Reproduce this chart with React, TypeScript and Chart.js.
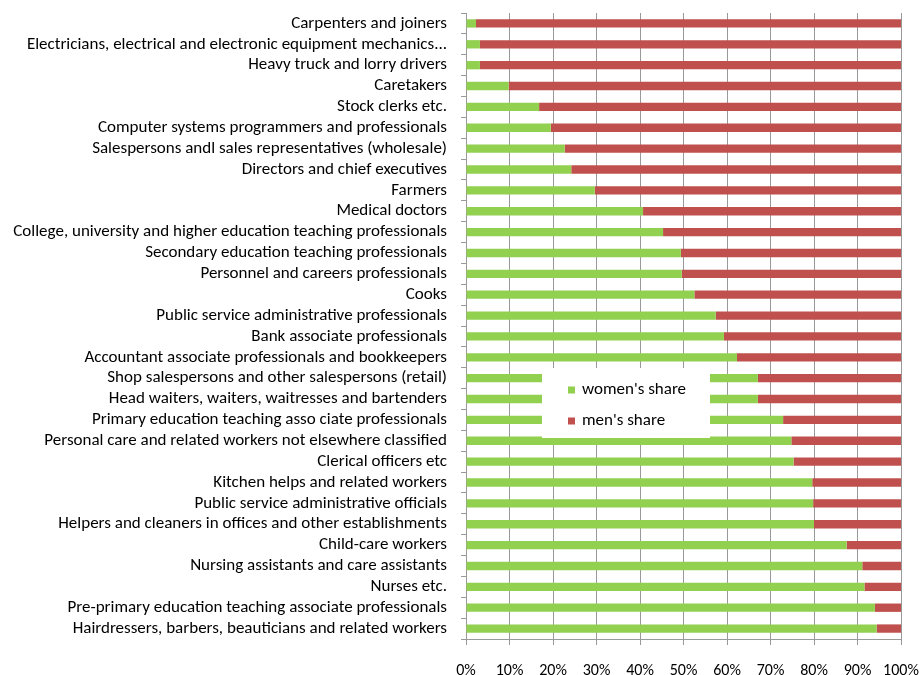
import React, { useEffect, useRef } from "react";
import { Chart, registerables } from "chart.js";

Chart.register(...registerables);

const categories: string[] = [
  "Carpenters and joiners",
  "Electricians, electrical and electronic equipment mechanics...",
  "Heavy truck and lorry drivers",
  "Caretakers",
  "Stock clerks etc.",
  "Computer systems programmers and professionals",
  "Salespersons andl sales representatives (wholesale)",
  "Directors and chief executives",
  "Farmers",
  "Medical doctors",
  "College, university and higher education teaching professionals",
  "Secondary education teaching professionals",
  "Personnel and careers professionals",
  "Cooks",
  "Public service administrative professionals",
  "Bank associate professionals",
  "Accountant associate professionals and bookkeepers",
  "Shop salespersons and other salespersons (retail)",
  "Head waiters, waiters, waitresses and bartenders",
  "Primary education teaching asso ciate professionals",
  "Personal care and related workers not elsewhere classified",
  "Clerical officers etc",
  "Kitchen helps and related workers",
  "Public service administrative officials",
  "Helpers and cleaners in offices and other establishments",
  "Child-care workers",
  "Nursing assistants and care assistants",
  "Nurses etc.",
  "Pre-primary education teaching associate professionals",
  "Hairdressers, barbers, beauticians and related workers",
];

const womenShare: number[] = [
  2.3, 3.2, 3.2, 9.8, 16.8, 19.5, 22.7, 24.2, 29.6, 40.7,
  45.3, 49.4, 49.6, 52.5, 57.4, 59.3, 62.3, 67.1, 67.1, 72.9,
  74.8, 75.3, 79.6, 79.8, 80.0, 87.5, 91.1, 91.6, 94.0, 94.4,
];

const menShare: number[] = [
  97.7, 96.8, 96.8, 90.2, 83.2, 80.5, 77.3, 75.8, 70.4, 59.3,
  54.7, 50.6, 50.4, 47.5, 42.6, 40.7, 37.7, 32.9, 32.9, 27.1,
  25.2, 24.7, 20.4, 20.2, 20.0, 12.5, 8.9, 8.4, 6.0, 5.6,
];

const seriesNames: string[] = ["women's share", "men's share"];
const xTicks: number[] = [0, 10, 20, 30, 40, 50, 60, 70, 80, 90, 100];

const GREEN = "#92D050";
const RED = "#C0504D";
const GRID = "#999999";
const FONT = "Carlito, Calibri, Lato, 'Open Sans', sans-serif";

const insideLegend = {
  id: "insideLegend",
  afterDraw(chart: any) {
    const { ctx, chartArea } = chart;
    const bx = chartArea.left + 76;
    const by = chartArea.top + 355;
    ctx.save();
    ctx.fillStyle = "#ffffff";
    ctx.fillRect(bx, by, 168, 70);
    const rows = [chartArea.top + 377, chartArea.top + 408];
    chart.data.datasets.forEach((ds: any, i: number) => {
      ctx.fillStyle = ds.backgroundColor;
      ctx.fillRect(chartArea.left + 102, rows[i] - 3.5, 7, 7);
      ctx.fillStyle = "#000000";
      ctx.font = "17px " + FONT;
      ctx.textAlign = "left";
      ctx.textBaseline = "middle";
      ctx.fillText(ds.label, chartArea.left + 116, rows[i]);
    });
    ctx.restore();
  },
};

export default function App() {
  const ref = useRef<HTMLCanvasElement | null>(null);

  useEffect(() => {
    if (!ref.current) return;
    const chart = new Chart(ref.current, {
      type: "bar",
      data: {
        labels: categories,
        datasets: [
          {
            label: seriesNames[0],
            data: womenShare,
            backgroundColor: GREEN,
            barPercentage: 0.4,
            categoryPercentage: 1,
          },
          {
            label: seriesNames[1],
            data: menShare,
            backgroundColor: RED,
            barPercentage: 0.4,
            categoryPercentage: 1,
          },
        ],
      },
      options: {
        indexAxis: "y",
        animation: false,
        responsive: false,
        maintainAspectRatio: false,
        layout: { padding: { top: 13, right: 21, left: 0, bottom: 0 } },
        plugins: {
          legend: { display: false },
          tooltip: { enabled: false },
        },
        scales: {
          x: {
            stacked: true,
            min: 0,
            max: 100,
            afterBuildTicks: (scale: any) => {
              scale.ticks = xTicks.map((v) => ({ value: v }));
            },
            afterFit: (scale: any) => {
              scale.height = 36;
              scale.paddingLeft = 0;
              scale.paddingRight = 0;
            },
            ticks: {
              callback: (v: any) => v + "%",
              color: "#000000",
              font: { family: FONT, size: 16 },
              padding: 16,
              maxRotation: 0,
            },
            grid: {
              color: GRID,
              lineWidth: 1,
              drawTicks: true,
              tickLength: 6,
            },
            border: { color: GRID },
          },
          y: {
            stacked: true,
            afterFit: (scale: any) => {
              scale.width = 466;
              scale.paddingTop = 0;
              scale.paddingBottom = 0;
            },
            ticks: {
              color: "#000000",
              font: { family: FONT, size: 17 },
              padding: 14,
              autoSkip: false,
            },
            grid: {
              drawOnChartArea: false,
              drawTicks: true,
              tickLength: 5,
              color: GRID,
              offset: true,
            },
            border: { color: GRID },
          },
        },
      },
      plugins: [insideLegend],
    } as any);
    return () => chart.destroy();
  }, []);

  return (
    <div style={{ position: "fixed", left: 0, top: 0, width: 922, height: 675, background: "#fff" }}>
      <canvas ref={ref} width={922} height={675} style={{ width: 922, height: 675 }} />
    </div>
  );
}
